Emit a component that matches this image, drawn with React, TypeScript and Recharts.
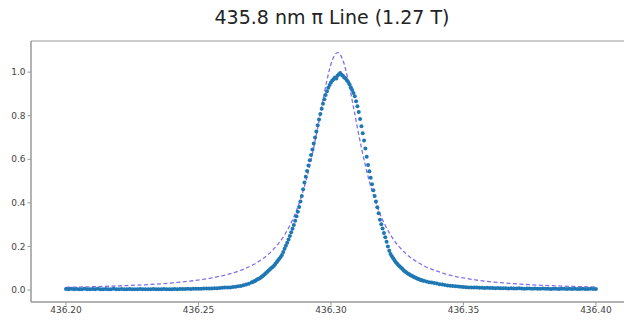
import { ComposedChart, Scatter, Line, XAxis, YAxis, ReferenceArea } from 'recharts';

// measured spectrum, left tail: 436.200 .. 436.269, step 0.001
const leftTail = [
  0.005, 0.003, 0.006, 0.004, 0.005, 0.003, 0.004, 0.006, 0.004, 0.003,
  0.005, 0.004, 0.006, 0.003, 0.004, 0.005, 0.003, 0.004, 0.006, 0.004,
  0.003, 0.005, 0.004, 0.003, 0.005, 0.004, 0.003, 0.004, 0.005, 0.003,
  0.004, 0.004, 0.003, 0.005, 0.004, 0.004, 0.003, 0.005, 0.004, 0.004,
  0.004, 0.005, 0.004, 0.005, 0.005, 0.005, 0.006, 0.005, 0.006, 0.006,
  0.006, 0.006, 0.007, 0.007, 0.007, 0.007, 0.008, 0.008, 0.009, 0.010,
  0.011, 0.012, 0.012, 0.014, 0.015, 0.017, 0.019, 0.022, 0.025, 0.029,
];

// peak region: 436.2700 .. 436.3350, step 0.0005
const peakCore = [
  0.034, 0.037, 0.040, 0.043, 0.047, 0.050, 0.053, 0.057, 0.062, 0.067,
  0.072, 0.078, 0.084, 0.090, 0.095, 0.101, 0.106, 0.111, 0.119, 0.127,
  0.135, 0.143, 0.152, 0.161, 0.175, 0.189, 0.203, 0.217, 0.232, 0.248,
  0.265, 0.281, 0.298, 0.318, 0.339, 0.359, 0.381, 0.406, 0.432, 0.462,
  0.494, 0.520, 0.546, 0.571, 0.596, 0.620, 0.645, 0.672, 0.700, 0.728,
  0.756, 0.783, 0.808, 0.832, 0.855, 0.876, 0.895, 0.912, 0.928, 0.941,
  0.953, 0.962, 0.968, 0.975, 0.971, 0.984, 0.990, 0.996, 0.988, 0.983,
  0.976, 0.972, 0.963, 0.955, 0.944, 0.931, 0.918, 0.904, 0.889, 0.867,
  0.843, 0.817, 0.785, 0.752, 0.719, 0.686, 0.650, 0.612, 0.574, 0.545,
  0.515, 0.485, 0.458, 0.432, 0.406, 0.380, 0.352, 0.322, 0.302, 0.282,
  0.262, 0.242, 0.221, 0.200, 0.180, 0.165, 0.155, 0.146, 0.137, 0.128,
  0.120, 0.114, 0.108, 0.102, 0.096, 0.090, 0.085, 0.080, 0.076, 0.072,
  0.068, 0.065, 0.062, 0.059, 0.056, 0.053, 0.050, 0.048, 0.046, 0.044,
  0.042,
];

// right tail: 436.336 .. 436.400, step 0.001
const rightTail = [
  0.039, 0.036, 0.034, 0.032, 0.030, 0.027, 0.025, 0.023, 0.021, 0.020,
  0.019, 0.017, 0.016, 0.015, 0.014, 0.013, 0.012, 0.012, 0.011, 0.011,
  0.010, 0.010, 0.009, 0.010, 0.009, 0.009, 0.008, 0.009, 0.008, 0.008,
  0.008, 0.007, 0.008, 0.007, 0.007, 0.008, 0.007, 0.006, 0.007, 0.007,
  0.006, 0.007, 0.006, 0.006, 0.007, 0.006, 0.006, 0.005, 0.006, 0.006,
  0.005, 0.006, 0.006, 0.005, 0.006, 0.005, 0.006, 0.005, 0.005, 0.006,
  0.005, 0.005, 0.006, 0.005, 0.005,
];

// fitted profile
const fitX = [
  436.2, 436.22, 436.24, 436.255, 436.265, 436.272, 436.278, 436.2825, 436.2865,
  436.2905, 436.2935, 436.2965, 436.2985, 436.3005, 436.3025, 436.3045, 436.3065,
  436.3085, 436.3115, 436.3145, 436.3185, 436.3225, 436.3285, 436.3345, 436.3425,
  436.3525, 436.3675, 436.3825, 436.4,
];
const fitY = [
  0.0124, 0.019, 0.0328, 0.0555, 0.0864, 0.1255, 0.183, 0.253, 0.35,
  0.498, 0.653, 0.84, 0.963, 1.055, 1.09, 1.055, 0.963,
  0.84, 0.653, 0.498, 0.35, 0.253, 0.165, 0.115, 0.0766,
  0.0503, 0.0303, 0.0202, 0.0137,
];

const xTicks = [436.2, 436.25, 436.3, 436.35, 436.4];
const yTicks = [0, 0.2, 0.4, 0.6, 0.8, 1.0];

const xDomain: [number, number] = [436.1868, 436.414];
const yDomain: [number, number] = [-0.055, 1.143];

const toPoints = (vals: number[], start: number, step: number) =>
  vals.map((y, i) => ({ x: +(start + i * step).toFixed(4), y }));

const measured = [
  ...toPoints(leftTail, 436.2, 0.001),
  ...toPoints(peakCore, 436.27, 0.0005),
  ...toPoints(rightTail, 436.336, 0.001),
];
const fit = fitX.map((x, i) => ({ x, y: fitY[i] }));

const font = 'DejaVu Sans, sans-serif';

const Dot = (props: any) => <circle cx={props.cx} cy={props.cy} r={2} fill="#1f77b4" />;

export default function App() {
  return (
    <div
      style={{
        position: 'absolute',
        left: 0,
        top: 0,
        width: 624,
        height: 320,
        overflow: 'hidden',
        background: '#fff',
      }}
    >
      <div
        style={{
          position: 'absolute',
          left: 0,
          top: 6,
          width: 664,
          textAlign: 'center',
          fontFamily: font,
          fontSize: 19,
          color: '#222',
        }}
      >
        435.8 nm π Line (1.27 T)
      </div>
      <ComposedChart
        width={640}
        height={320}
        margin={{ top: 41, right: 7, bottom: 0, left: 0 }}
        style={{ position: 'absolute', left: 0, top: 0 }}
      >
        <ReferenceArea
          x1={xDomain[0]}
          x2={xDomain[1]}
          y1={yDomain[0]}
          y2={yDomain[1]}
          fill="none"
          stroke="#999"
          strokeWidth={1}
          fillOpacity={0}
        />
        <XAxis
          type="number"
          dataKey="x"
          domain={xDomain}
          ticks={xTicks}
          allowDataOverflow
          height={18}
          tickFormatter={(v: number) => v.toFixed(2)}
          tick={{ fontSize: 9, fill: '#444', fontFamily: font }}
          tickSize={3.5}
          tickMargin={1}
          stroke="#999"
        />
        <YAxis
          type="number"
          dataKey="y"
          domain={yDomain}
          ticks={yTicks}
          allowDataOverflow
          width={31}
          tickFormatter={(v: number) => v.toFixed(1)}
          tick={{ fontSize: 9, fill: '#444', fontFamily: font }}
          tickSize={3.5}
          tickMargin={2}
          stroke="#999"
        />
        <Scatter data={measured} dataKey="y" shape={Dot} isAnimationActive={false} />
        <Line
          data={fit}
          dataKey="y"
          type="monotone"
          stroke="#8070f0"
          strokeWidth={1.3}
          strokeDasharray="4 2.5"
          dot={false}
          isAnimationActive={false}
        />
      </ComposedChart>
    </div>
  );
}
